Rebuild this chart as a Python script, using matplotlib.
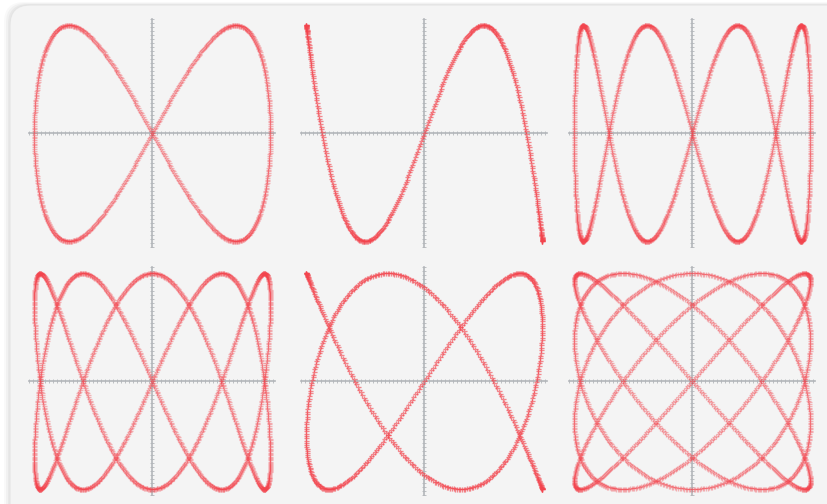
import matplotlib
matplotlib.use('Agg')

import matplotlib.pyplot as plt
from matplotlib.patches import FancyBboxPatch
import numpy as np

# -------------------------------------------------------------------
# Lissajous figures x = sin(a t), y = sin(b t), one per panel
x_freq = [1, 1, 1, 2, 3, 4]
y_freq = [2, 3, 4, 5, 5, 5]
points_per_cycle = 380

W, H = 827, 504
col_cx = [152, 424, 692]     # panel centres, pixels from left
row_cy = [133, 381]          # panel centres, pixels from top
half_x, half_y = 118, 108    # pixels per unit amplitude
box_x, box_y = 127, 118      # half size of each axes box
axis_x, axis_y = 123, 114    # half length of the drawn axis lines

curve_color = '#f2444d'
axis_color = '#b3b6ba'

fig = plt.figure(figsize=(W / 100, H / 100), dpi=100)
fig.patch.set_facecolor('white')

# card behind the panels, with a soft shadow
for k, a in enumerate([0.035, 0.03, 0.025]):
    shadow = FancyBboxPatch((10 - 2 - k * 2, -60), 1000, H - 5 + 60 + 1 + k,
                            boxstyle='round,pad=0,rounding_size=20',
                            transform=None, facecolor='black', alpha=a,
                            edgecolor='none', zorder=-3)
    fig.patches.append(shadow)
card = FancyBboxPatch((10, -60), 1000, H - 5 + 60,
                      boxstyle='round,pad=0,rounding_size=20',
                      transform=None, facecolor='#f4f4f4',
                      edgecolor='#e4e4e4', linewidth=0.8, zorder=-2)
fig.patches.append(card)

for i, (a, b) in enumerate(zip(x_freq, y_freq)):
    cx = col_cx[i % 3]
    cy = H - row_cy[i // 3]
    ax = fig.add_axes([(cx - box_x) / W, (cy - box_y) / H,
                       2 * box_x / W, 2 * box_y / H])
    ax.set_xlim(-box_x / half_x, box_x / half_x)
    ax.set_ylim(-box_y / half_y, box_y / half_y)
    ax.axis('off')
    ax.patch.set_alpha(0)

    # axes through the origin, with small tick marks along them
    lx = axis_x / half_x
    ly = axis_y / half_y
    ax.plot([-lx, lx], [0, 0], color=axis_color, lw=1.2, zorder=1)
    ax.plot([0, 0], [-ly, ly], color=axis_color, lw=1.2, zorder=1)
    tx = np.arange(-lx, lx, 4.0 / half_x)
    ty = np.arange(-ly, ly, 4.0 / half_y)
    ax.plot(tx, np.zeros_like(tx), ls='none', marker='|', ms=2.5,
            mew=0.6, color=axis_color, zorder=1)
    ax.plot(np.zeros_like(ty), ty, ls='none', marker='_', ms=2.5,
            mew=0.6, color=axis_color, zorder=1)

    # odd/odd ratios retrace the same path twice per period
    n = points_per_cycle * b
    if a % 2 and b % 2:
        n = n * 2 // 3
    t = np.linspace(0, 2 * np.pi, n, endpoint=False)
    x = np.sin(a * t)
    y = np.sin(b * t)
    ax.plot(x, y, ls='none', marker='+', ms=3.6, mew=0.9,
            color=curve_color, alpha=0.38, zorder=2)

fig.savefig('out.png', dpi=100)
